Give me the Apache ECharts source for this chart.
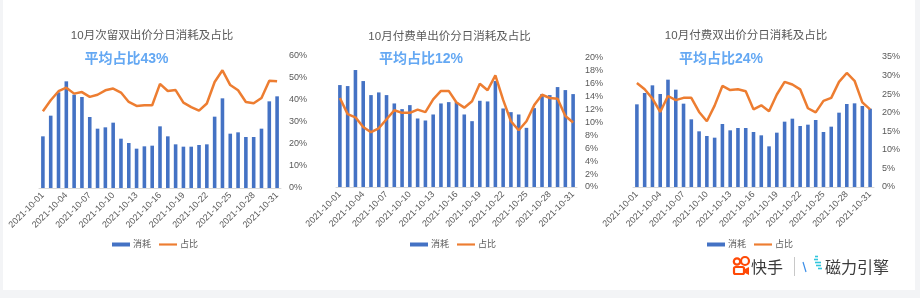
<!DOCTYPE html>
<html>
<head>
<meta charset="utf-8">
<script src="https://cdn.jsdelivr.net/npm/echarts@6/dist/echarts.min.js"></script>
<style>
html,body{margin:0;padding:0;background:#f3f4f6;width:920px;height:298px;overflow:hidden;}
#panel{position:absolute;left:3px;top:0;width:912px;height:290px;background:#fff;}
#chart{position:absolute;left:0;top:0;width:920px;height:298px;}
</style>
</head>
<body>
<div id="panel"></div>
<div id="chart"></div>
<script>
const dates = ['2021-10-01','2021-10-02','2021-10-03','2021-10-04','2021-10-05','2021-10-06','2021-10-07','2021-10-08','2021-10-09','2021-10-10',
'2021-10-11','2021-10-12','2021-10-13','2021-10-14','2021-10-15','2021-10-16','2021-10-17','2021-10-18','2021-10-19','2021-10-20',
'2021-10-21','2021-10-22','2021-10-23','2021-10-24','2021-10-25','2021-10-26','2021-10-27','2021-10-28','2021-10-29','2021-10-30','2021-10-31'];

const titles = ['10月次留双出价分日消耗及占比','10月付费单出价分日消耗及占比','10月付费双出价分日消耗及占比'];
const avgLabels = ['平均占比43%','平均占比12%','平均占比24%'];
const legendNames = ['消耗','占比'];

// chart 1: 次留双出价
const cost1 = [155,217,287,320,280,273,213,178,182,196,148,135,118,125,127,185,155,131,124,124,129,131,214,269,163,167,153,153,178,260,275];
const ratio1 = [34.9,39.9,44.0,45.6,42.9,43.6,41.4,42.4,44.4,45.2,43.4,39.1,37.3,37.6,37.6,47.3,44.1,44.5,38.8,36.8,35.2,38.4,48.2,53.5,46.8,44.4,39.1,38.5,40.9,48.8,48.5];
// chart 2: 付费单出价
const cost2 = [305,302,350,317,275,283,275,250,233,245,205,199,217,250,254,254,217,197,258,256,317,235,224,217,177,236,278,275,299,290,278];
const ratio2 = [13.8,11.3,10.8,9.3,8.5,9.1,10.5,11.9,11.5,11.5,12.0,11.6,13.6,14.9,14.9,13.1,12.3,13.3,16.0,15.0,17.3,13.5,10.2,8.8,10.2,12.7,14.3,13.8,13.7,11.0,10.0];
// chart 3: 付费双出价
const cost3 = [248,282,305,279,322,292,250,203,167,153,148,189,170,177,177,165,155,122,163,196,205,183,187,201,165,181,223,249,251,243,235];
const ratio3 = [28.0,26.3,23.8,20.2,24.5,23.4,24.0,24.0,20.2,17.7,21.9,27.2,26.1,26.3,25.8,20.9,22.0,20.4,24.9,28.3,27.6,26.3,21.2,20.1,23.2,24.0,28.3,30.7,28.6,22.8,20.9];

const costs = [cost1, cost2, cost3];
const ratios = [ratio1, ratio2, ratio3];
const ratioMax = [60, 20, 35];
const ratioStep = [10, 2, 5];
const costMax = [396, 386, 390];

const grids = [
  {left:39, top:56, width:242, height:132},
  {left:336, top:58, width:241, height:129},
  {left:633, top:57, width:241, height:130}
];
const titleCenters = [[152,36],[449.5,37],[746,36]];
const avgCenters = [[126.5,59],[421,59],[721,59]];
const legendLefts = [112, 410, 707];

const FONT = '"Liberation Sans","Noto Sans CJK SC",sans-serif';
const BAR = '#4472c4', LINE = '#ed7d31', TXT = '#595959';
const LINE_ICON = 'path://M0,0 L20,0 L20,2.4 L0,2.4 Z';

const option = {
  animation:false,
  backgroundColor:'transparent',
  textStyle:{fontFamily:FONT},
  grid: grids.map(g => Object.assign({outerBoundsMode:'none', containLabel:false}, g)),
  xAxis: grids.map((g,i) => ({
    type:'category', gridIndex:i, data:dates, boundaryGap:true,
    axisLine:{show:true, lineStyle:{color:'#d9d9d9', width:1}},
    axisTick:{show:false},
    axisLabel:{interval:2, rotate:45, fontSize:9, color:TXT, margin:6, fontFamily:FONT}
  })),
  yAxis: [].concat(...grids.map((g,i) => [
    {type:'value', gridIndex:i, min:0, max:costMax[i], show:false, splitLine:{show:false}},
    {type:'value', gridIndex:i, position:'right', min:0, max:ratioMax[i], interval:ratioStep[i],
     axisLine:{show:false}, axisTick:{show:false}, splitLine:{show:false},
     axisLabel:{formatter:'{value}%', fontSize:9, color:TXT, margin:8, fontFamily:FONT}}
  ])),
  legend: grids.map((g,i) => ({
    left:legendLefts[i], top:240, padding:0, itemWidth:18, itemHeight:4, itemGap:8,
    symbolKeepAspect:true,
    textStyle:{fontSize:9, color:TXT, fontFamily:FONT, padding:[0,0,0,-2]},
    data:[{name:legendNames[0], icon:'rect'}, {name:legendNames[1], icon:LINE_ICON}]
  })),
  series: [].concat(...grids.map((g,i) => [
    {type:'bar', name:legendNames[0], xAxisIndex:i, yAxisIndex:i*2, data:costs[i],
     barWidth:'46%', itemStyle:{color:BAR}},
    {type:'line', name:legendNames[1], xAxisIndex:i, yAxisIndex:i*2+1, data:ratios[i],
     symbol:'none', showSymbol:false, lineStyle:{color:LINE, width:2.5}, itemStyle:{color:LINE}, z:5}
  ])),
  graphic: [
    ...titles.map((t,i) => ({type:'text', x:titleCenters[i][0], y:titleCenters[i][1],
      style:{text:t, font:'11.5px ' + FONT, fill:TXT, textAlign:'center', textVerticalAlign:'middle'}})),
    ...avgLabels.map((t,i) => ({type:'text', x:avgCenters[i][0], y:avgCenters[i][1],
      style:{text:t, font:'bold 14px ' + FONT, fill:'#64a8f3', textAlign:'center', textVerticalAlign:'middle'}})),
    // 快手 logo
    {type:'circle', shape:{cx:737, cy:261.5, r:3.2}, style:{fill:'none', stroke:'#ff4906', lineWidth:2.2}},
    {type:'circle', shape:{cx:745, cy:261, r:4}, style:{fill:'none', stroke:'#ff4906', lineWidth:2.2}},
    {type:'rect', shape:{x:734, y:267, width:10, height:7, r:1.5}, style:{fill:'none', stroke:'#ff4906', lineWidth:2.2}},
    {type:'polygon', shape:{points:[[744,269.5],[749,267],[749,275],[744,272.5]]}, style:{fill:'#ff4906'}},
    {type:'text', x:751, y:266.5, style:{text:'快手', font:'16px "Noto Sans CJK SC",sans-serif', fill:'#3a3a3a', textVerticalAlign:'middle'}},
    {type:'line', shape:{x1:794.5, y1:257, x2:794.5, y2:276}, style:{stroke:'#c8c8c8', lineWidth:1}},
    // 磁力引擎 icon
    {type:'line', shape:{x1:803, y1:262, x2:806, y2:272}, style:{stroke:'#3d8fe8', lineWidth:1.2}},
    {type:'line', shape:{x1:815, y1:256.5, x2:818, y2:256.5}, style:{stroke:'#33c6dd', lineWidth:1.6}},
    {type:'line', shape:{x1:814, y1:259.5, x2:818, y2:259.5}, style:{stroke:'#33c6dd', lineWidth:1.6}},
    {type:'line', shape:{x1:815, y1:262.5, x2:821, y2:262.5}, style:{stroke:'#33c6dd', lineWidth:1.6}},
    {type:'line', shape:{x1:816, y1:265.5, x2:821, y2:265.5}, style:{stroke:'#33c6dd', lineWidth:1.6}},
    {type:'line', shape:{x1:818, y1:268.5, x2:822, y2:268.5}, style:{stroke:'#33c6dd', lineWidth:1.6}},
    {type:'text', x:825, y:266.5, style:{text:'磁力引擎', font:'16px "Noto Sans CJK SC",sans-serif', fill:'#3a3a3a', textVerticalAlign:'middle'}}
  ]
};

const chart = echarts.init(document.getElementById('chart'), null, {renderer:'canvas', width:920, height:298});
chart.setOption(option);
</script>
</body>
</html>
